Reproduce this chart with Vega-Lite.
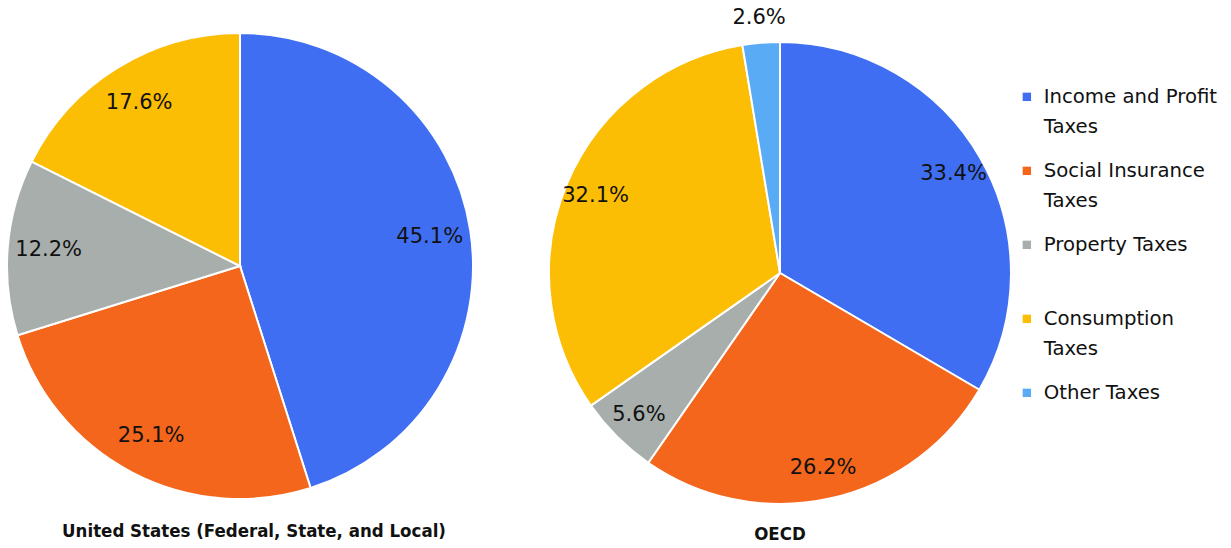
{
  "$schema": "https://vega.github.io/schema/vega-lite/v6.json",
  "padding": {"left": 0, "top": 6, "right": 0, "bottom": 0},
  "background": "white",
  "data": {"values": [
    {"region": "US", "category": "Income and Profit Taxes", "value": 0.451, "order": 1},
    {"region": "US", "category": "Social Insurance Taxes", "value": 0.251, "order": 2},
    {"region": "US", "category": "Property Taxes", "value": 0.122, "order": 3},
    {"region": "US", "category": "Consumption Taxes", "value": 0.176, "order": 4},
    {"region": "OECD", "category": "Income and Profit Taxes", "value": 0.334, "order": 1},
    {"region": "OECD", "category": "Social Insurance Taxes", "value": 0.262, "order": 2},
    {"region": "OECD", "category": "Property Taxes", "value": 0.056, "order": 3},
    {"region": "OECD", "category": "Consumption Taxes", "value": 0.321, "order": 4},
    {"region": "OECD", "category": "Other Taxes", "value": 0.026, "order": 5}
  ]},
  "spacing": 63,
  "config": {
    "view": {"stroke": null},
    "style": {"guide-label": {"lineHeight": 30}},
    "title": {"orient": "bottom", "frame": "group", "font": "DejaVu Sans Condensed, sans-serif", "fontWeight": "bold", "fontSize": 18.5, "color": "#111111", "baseline": "top"}
  },
  "hconcat": [
    {
      "width": 480,
      "height": 500,
      "title": {"text": "United States (Federal, State, and Local)", "dx": 14, "offset": 6},
      "transform": [{"filter": "datum.region == 'US'"}],
      "encoding": {
        "theta": {"field": "value", "type": "quantitative", "stack": true},
        "order": {"field": "order", "type": "quantitative"}
      },
      "layer": [
        {
          "mark": {"type": "arc", "outerRadius": 233, "stroke": "white", "strokeWidth": 2},
          "encoding": {
            "color": {
              "field": "category", "type": "nominal",
              "scale": {"domain": ["Income and Profit Taxes", "Social Insurance Taxes", "Property Taxes", "Consumption Taxes", "Other Taxes"], "range": ["#3f6ef2", "#f4661c", "#a8aeac", "#fcbd05", "#5aabf5"]},
              "legend": {
                "orient": "none", "legendX": 1017, "legendY": 71, "title": null,
                "symbolType": "square", "symbolSize": 70, "symbolStrokeWidth": 0,
                "labelFont": "DejaVu Sans", "labelFontSize": 19.7, "labelColor": "#111111",
                "labelOffset": 7, "rowPadding": 23, "labelLimit": 300, "labelBaseline": "middle",
                "labelExpr": "datum.label == 'Income and Profit Taxes' ? ['Income and Profit', 'Taxes'] : datum.label == 'Social Insurance Taxes' ? ['Social Insurance', 'Taxes'] : datum.label == 'Consumption Taxes' ? ['Consumption', 'Taxes'] : [datum.label, '']",
                "encode": {"labels": {"dy": {"value": 15}}}
              }
            }
          }
        },
        {
          "mark": {"type": "text", "radius": 192, "font": "DejaVu Sans", "fontSize": 21, "color": "#111111"},
          "encoding": {
            "text": {"field": "value", "type": "quantitative", "format": ".1%"}
          }
        }
      ]
    },
    {
      "width": 470,
      "height": 514,
      "title": {"text": "OECD", "offset": -8},
      "transform": [{"filter": "datum.region == 'OECD'"}],
      "encoding": {
        "theta": {"field": "value", "type": "quantitative", "stack": true},
        "order": {"field": "order", "type": "quantitative"}
      },
      "layer": [
        {
          "mark": {"type": "arc", "outerRadius": 231, "stroke": "white", "strokeWidth": 2},
          "encoding": {
            "color": {"field": "category", "type": "nominal"}
          }
        },
        {
          "mark": {"type": "text", "radius": 200, "font": "DejaVu Sans", "fontSize": 21, "color": "#111111"},
          "encoding": {
            "text": {"condition": {"test": "datum.value < 0.05", "value": ""}, "field": "value", "type": "quantitative", "format": ".1%"}
          }
        },
        {
          "mark": {"type": "text", "radius": 256, "font": "DejaVu Sans", "fontSize": 21, "color": "#111111"},
          "encoding": {
            "text": {"condition": {"test": "datum.value >= 0.05", "value": ""}, "field": "value", "type": "quantitative", "format": ".1%"}
          }
        }
      ]
    }
  ],
  "resolve": {"scale": {"color": "shared"}}
}
